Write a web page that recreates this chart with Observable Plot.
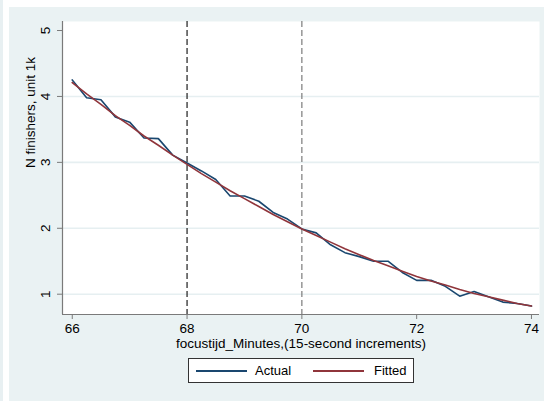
<!DOCTYPE html>
<html><head><meta charset="utf-8">
<script src="https://cdn.jsdelivr.net/npm/d3@7"></script>
<script src="https://cdn.jsdelivr.net/npm/@observablehq/plot@0.6"></script>
<style>
body{margin:0;background:#fff;font-family:"Liberation Sans",Arial,sans-serif;}
#wrap{position:relative;width:544px;height:401px;overflow:hidden;background:#fff;}
#strip{position:absolute;left:0;top:0;width:3px;height:401px;background:#e8f0f2;}
#bg{position:absolute;left:9px;top:7px;width:535px;height:394px;background:#eaf2f3;}
#chart{position:absolute;left:0;top:0;}
#legend{position:absolute;left:188px;top:358px;width:226px;height:25px;box-sizing:border-box;border:1px solid #333;background:#fff;font-size:13px;color:#000;}
#legend .ln{position:absolute;top:11px;height:1.6px;}
#legend .lb{position:absolute;top:4px;line-height:16px;}
</style>
</head><body>
<div id="wrap"><div id="strip"></div><div id="bg"></div><div id="chart"></div><div id="legend"></div></div>
<script>
const minutes = [66,66.25,66.5,66.75,67,67.25,67.5,67.75,68,68.25,68.5,68.75,69,69.25,69.5,69.75,70,70.25,70.5,70.75,71,71.25,71.5,71.75,72,72.25,72.5,72.75,73,73.25,73.5,73.75,74];
const actual = [4.25,3.98,3.95,3.69,3.61,3.37,3.36,3.11,2.99,2.87,2.74,2.49,2.49,2.41,2.24,2.14,1.99,1.93,1.75,1.63,1.57,1.50,1.50,1.33,1.21,1.21,1.12,0.97,1.04,0.96,0.88,0.86,0.82];
const fitted = [4.21,4.04,3.88,3.71,3.56,3.40,3.26,3.11,2.97,2.83,2.70,2.57,2.45,2.33,2.21,2.10,1.99,1.89,1.79,1.69,1.60,1.51,1.43,1.35,1.27,1.20,1.14,1.07,1.01,0.96,0.91,0.86,0.82];
const xTicks = [66,68,70,72,74];
const yTicks = [1,2,3,4,5];
const gridLevels = [1,2,3,4];
const cutoffs = [68,70];
const cutoffColors = ["#1e1e1e","#7c7c7c"];
const xLabel = "focustijd_Minutes,(15-second increments)";
const yLabel = "N finishers, unit 1k";
const seriesNames = ["Actual","Fitted"];
const seriesColors = ["#1a476f","#90353b"];

const rows = minutes.map((m,i)=>({m, actual: actual[i], fitted: fitted[i]}));
const xDomain = [65.83, 74.14];
const yDomain = [0.692, 5.137];
const axisColor = "#7a7a7a";

const chart = Plot.plot({
  width:544, height:401, marginLeft:62, marginRight:5, marginTop:21, marginBottom:87,
  style:{background:"transparent", fontFamily:"'Liberation Sans', Arial, sans-serif", fontSize:"13.5px", color:"#000", overflow:"visible"},
  x:{domain:xDomain}, y:{domain:yDomain},
  marks:[
    Plot.frame({fill:"white", stroke:"none"}),
    Plot.ruleY(gridLevels, {stroke:"#e6eff1", strokeWidth:1.6}),
    Plot.ruleX([cutoffs[0]], {stroke:cutoffColors[0], strokeDasharray:"6,3", strokeWidth:1.2}),
    Plot.ruleX([cutoffs[1]], {stroke:cutoffColors[1], strokeDasharray:"6,3", strokeWidth:1.2}),
    Plot.line(rows, {x:"m", y:"actual", stroke:seriesColors[0], strokeWidth:1.6}),
    Plot.line(rows, {x:"m", y:"fitted", stroke:seriesColors[1], strokeWidth:1.6}),
    Plot.ruleX([xDomain[0]], {stroke:axisColor, strokeWidth:1.2}),
    Plot.ruleY([yDomain[0]], {stroke:axisColor, strokeWidth:1.2}),
    Plot.axisX(xTicks, {tickSize:5, tickPadding:4, stroke:axisColor, label:null, fontSize:13.5}),
    Plot.axisY(yTicks, {tickSize:5, stroke:axisColor, label:null, tickFormat:()=>""}),
    Plot.text(yTicks, {x:xDomain[0], y:d=>d, text:d=>String(d), rotate:-90, dx:-17, fontSize:13.5}),
    Plot.text([xLabel], {frameAnchor:"bottom", dy:33.5, text:d=>d, fontSize:13.5}),
    Plot.text([yLabel], {frameAnchor:"left", dx:-32, rotate:-90, text:d=>d, fontSize:13.5})
  ]
});
document.getElementById("chart").appendChild(chart);

const legend = document.getElementById("legend");
const items = [
  {name:seriesNames[0], color:seriesColors[0], line:7, text:66},
  {name:seriesNames[1], color:seriesColors[1], line:124, text:185}
];
items.forEach(it=>{
  const ln = document.createElement("div");
  ln.className="ln"; ln.style.left=it.line+"px"; ln.style.width="51px"; ln.style.background=it.color;
  legend.appendChild(ln);
  const lb = document.createElement("span");
  lb.className="lb"; lb.style.left=it.text+"px"; lb.textContent=it.name;
  legend.appendChild(lb);
});
</script>
</body></html>
